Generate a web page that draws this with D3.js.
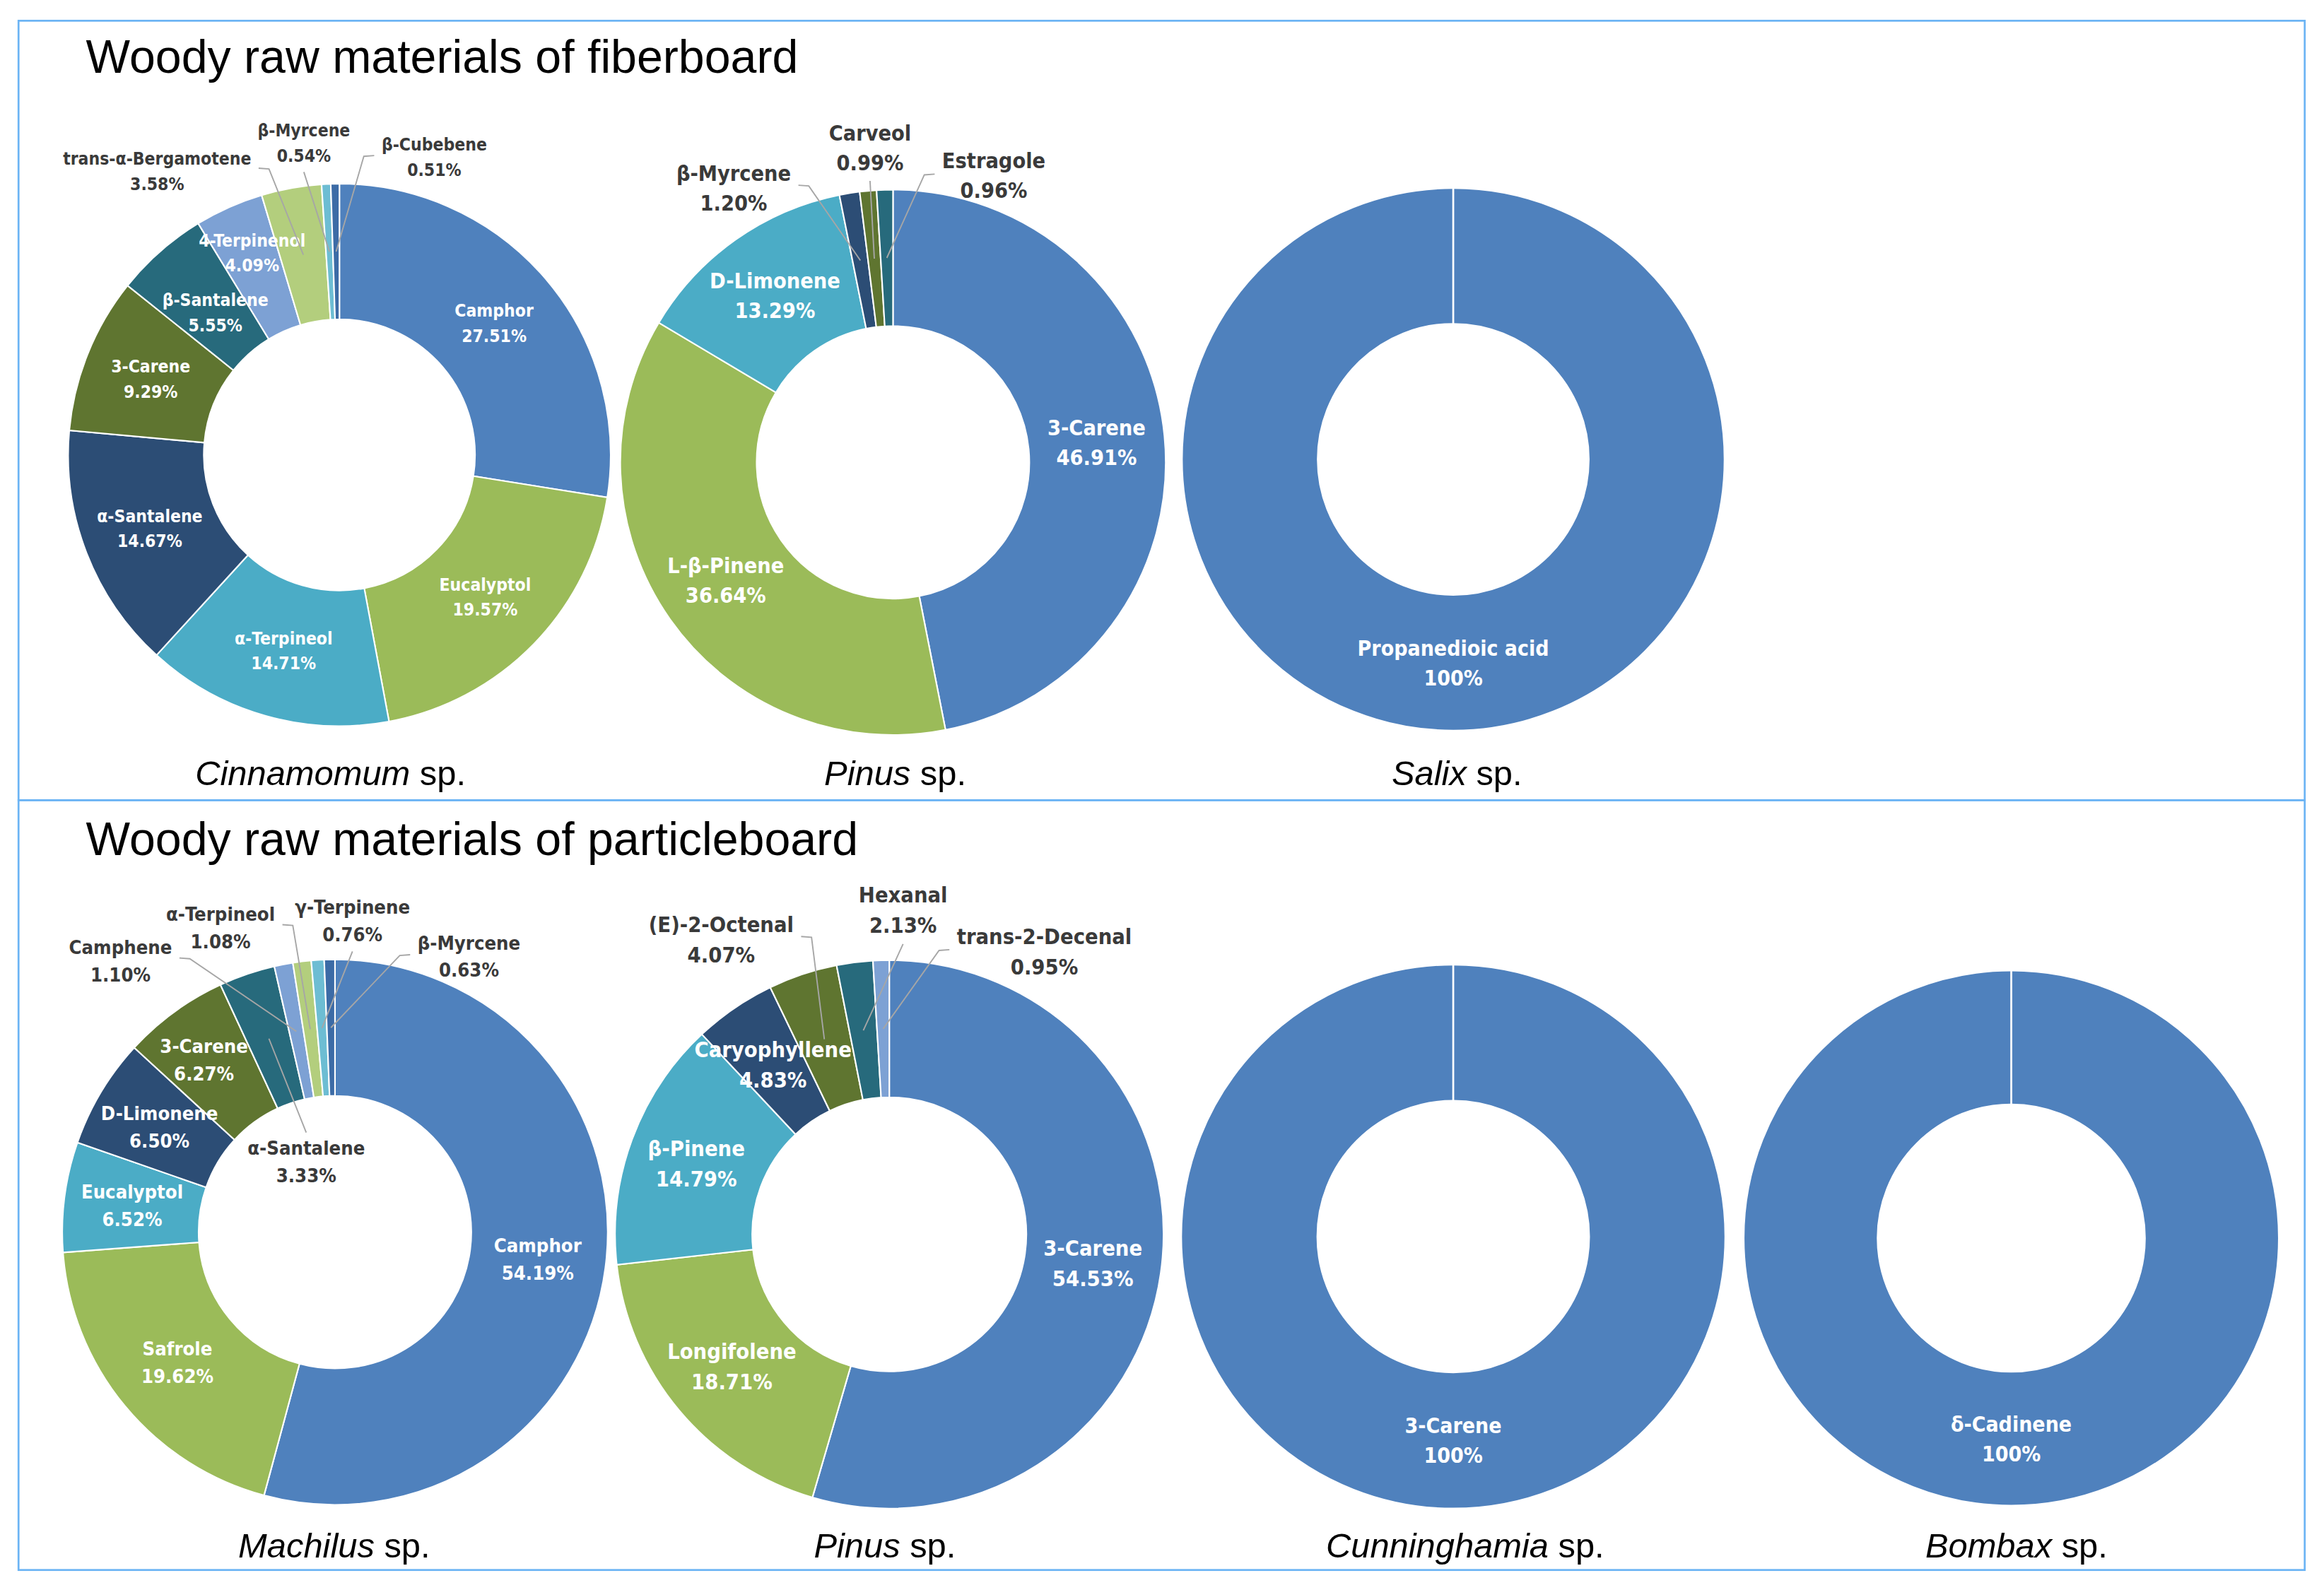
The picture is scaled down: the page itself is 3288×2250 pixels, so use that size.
<!DOCTYPE html>
<html>
<head>
<meta charset="utf-8">
<script src="https://cdn.jsdelivr.net/npm/d3@7"></script>
<style>
  html, body { margin: 0; padding: 0; background: #fff; }
  svg { display: block; }
</style>
</head>
<body>
<div id="chart-area"></div>
<script>
// ---------- data ----------
const panelTitles = ['Woody raw materials of fiberboard', 'Woody raw materials of particleboard'];

const cinnamomumCompounds = ['Camphor', 'Eucalyptol', 'α-Terpineol', 'α-Santalene', '3-Carene',
  'β-Santalene', '4-Terpinenol', 'trans-α-Bergamotene', 'β-Myrcene', 'β-Cubebene'];
const cinnamomumValues = [27.51, 19.57, 14.71, 14.67, 9.29, 5.55, 4.09, 3.58, 0.54, 0.51];

const pinusFiberCompounds = ['3-Carene', 'L-β-Pinene', 'D-Limonene', 'β-Myrcene', 'Carveol', 'Estragole'];
const pinusFiberValues = [46.91, 36.64, 13.29, 1.20, 0.99, 0.96];

const salixCompounds = ['Propanedioic acid'];
const salixValues = [100];

const machilusCompounds = ['Camphor', 'Safrole', 'Eucalyptol', 'D-Limonene', '3-Carene',
  'α-Santalene', 'Camphene', 'α-Terpineol', 'γ-Terpinene', 'β-Myrcene'];
const machilusValues = [54.19, 19.62, 6.52, 6.50, 6.27, 3.33, 1.10, 1.08, 0.76, 0.63];

const pinusParticleCompounds = ['3-Carene', 'Longifolene', 'β-Pinene', 'Caryophyllene',
  '(E)-2-Octenal', 'Hexanal', 'trans-2-Decenal'];
const pinusParticleValues = [54.53, 18.71, 14.79, 4.83, 4.07, 2.13, 0.95];

const cunninghamiaCompounds = ['3-Carene'];
const cunninghamiaValues = [100];

const bombaxCompounds = ['δ-Cadinene'];
const bombaxValues = [100];

// ---------- style ----------
const palette = ['#4f81bd', '#9bbb59', '#4bacc6', '#2c4d75', '#5f7530',
  '#276a7c', '#7da1d4', '#b3ce7d', '#6dbdd3', '#3c6ba6'];
const narrow = "'DejaVu Sans Condensed', 'DejaVu Sans', sans-serif";
const wide = "'DejaVu Sans Condensed', 'DejaVu Sans', sans-serif";

// ---------- layout (viewBox units) ----------
const W = 1568, H = 1073;
const charts = [
  { names: cinnamomumCompounds, values: cinnamomumValues, genus: 'Cinnamomum',
    cx: 229, cy: 307, R: 183, font: narrow, fs: 11.7, lh: 17, sx: 223, sy: 530,
    outside: { 7: [-123, -191.5], 8: [-24, -210.5], 9: [64, -201] },
    nudge: { 5: [7, 7], 6: [-3, -11] } },
  { names: pinusFiberCompounds, values: pinusFiberValues, genus: 'Pinus',
    cx: 602.5, cy: 312, R: 184, font: narrow, fs: 14.5, lh: 20, sx: 604, sy: 530,
    outside: { 3: [-107.5, -185], 4: [-15.5, -212.5], 5: [68, -193.5] }, nudge: {} },
  { names: salixCompounds, values: salixValues, genus: 'Salix',
    cx: 980.5, cy: 310, R: 183, font: narrow, fs: 14.3, lh: 20, sx: 983, sy: 530,
    outside: {}, nudge: {} },
  { names: machilusCompounds, values: machilusValues, genus: 'Machilus',
    cx: 226, cy: 831.5, R: 184, font: wide, fs: 13, lh: 18.5, sx: 225.5, sy: 1051,
    outside: { 5: [-19.4, -47.7], 6: [-144.7, -183], 7: [-77.2, -205.5], 8: [11.8, -210.2], 9: [90.4, -186.2] },
    nudge: { 4: [-7, -5] } },
  { names: pinusParticleCompounds, values: pinusParticleValues, genus: 'Pinus',
    cx: 600, cy: 833, R: 185, font: narrow, fs: 14.6, lh: 20.5, sx: 597, sy: 1051,
    outside: { 4: [-113.4, -199], 5: [9.3, -218.8], 6: [104.6, -191.1] }, nudge: {} },
  { names: cunninghamiaCompounds, values: cunninghamiaValues, genus: 'Cunninghamia',
    cx: 980.5, cy: 834.5, R: 183.5, font: narrow, fs: 14.3, lh: 20, sx: 988.5, sy: 1051,
    outside: {}, nudge: {} },
  { names: bombaxCompounds, values: bombaxValues, genus: 'Bombax',
    cx: 1357, cy: 835.5, R: 180.5, font: narrow, fs: 14.3, lh: 20, sx: 1360.5, sy: 1051,
    outside: {}, nudge: {} }
];

const pct = v => (v === 100 ? '100' : d3.format('.2f')(v)) + '%';

let svg = d3.select('#chart-area').append('svg')
  .attr('width', 3288)
  .attr('height', 2250)
  .attr('viewBox', '0 0 ' + W + ' ' + H);

// panel frames
[[14, 540], [540, 1059.5]].forEach(([y0, y1]) => {
  svg.append('rect')
    .attr('x', 12.5).attr('y', y0)
    .attr('width', 1555 - 12.5).attr('height', y1 - y0)
    .attr('fill', 'none')
    .attr('stroke', '#6cb4f4')
    .attr('stroke-width', 1.3);
});

// panel titles
panelTitles.forEach((t, i) => {
  svg.append('text')
    .attr('x', 58)
    .attr('y', i === 0 ? 49 : 577)
    .attr('font-family', "'Liberation Sans', Arial, sans-serif")
    .attr('font-size', 31.6)
    .attr('fill', '#000')
    .text(t);
});

let pie = d3.pie().sort(null).value(d => d.value);

charts.forEach(c => {
  let data = c.names.map((n, i) => ({ name: n, value: c.values[i], i: i }));
  let arcs = pie(data);
  let r0 = c.R * 0.5;
  let arc = d3.arc().innerRadius(r0).outerRadius(c.R);
  let mid = d3.arc().innerRadius((r0 + c.R) / 2).outerRadius((r0 + c.R) / 2);

  let g = svg.append('g').attr('transform', 'translate(' + c.cx + ',' + c.cy + ')');

  // slices
  g.selectAll('path.slice')
    .data(arcs)
    .enter()
    .append('path')
      .attr('class', 'slice')
      .attr('d', arc)
      .attr('fill', d => palette[d.data.i % palette.length])
      .attr('stroke', '#fff')
      .attr('stroke-width', 1);

  // seam of a single full slice
  if (arcs.length === 1) {
    g.append('line')
      .attr('x1', 0).attr('y1', -r0)
      .attr('x2', 0).attr('y2', -c.R)
      .attr('stroke', '#fff')
      .attr('stroke-width', 1.3);
  }

  // labels
  arcs.forEach(d => {
    let i = d.data.i;
    let cen = mid.centroid(d);
    let out = c.outside[i];
    let pos;
    if (out) pos = out;
    else {
      let nd = c.nudge[i] || [0, 0];
      pos = [cen[0] + nd[0], cen[1] + nd[1]];
    }
    let txt = g.append('text')
      .attr('text-anchor', 'middle')
      .attr('font-family', c.font)
      .attr('font-weight', 'bold')
      .attr('font-size', c.fs)
      .attr('fill', out ? '#3a3a3a' : '#fff');
    txt.append('tspan')
      .attr('x', pos[0])
      .attr('y', pos[1] - c.lh / 2 + 0.36 * c.fs)
      .text(d.data.name);
    txt.append('tspan')
      .attr('x', pos[0])
      .attr('y', pos[1] + c.lh / 2 + 0.36 * c.fs)
      .text(pct(d.data.value));

    if (out) {
      let bb = txt.node().getBBox();
      let pts;
      if (cen[0] >= bb.x && cen[0] <= bb.x + bb.width) {
        let sy = cen[1] > bb.y + bb.height ? bb.y + bb.height + 4 : bb.y - 3;
        pts = [[pos[0], sy], cen];
      } else if (cen[0] > bb.x + bb.width) {
        let sx = bb.x + bb.width + 5;
        pts = [[sx, pos[1] - 2], [sx + 7, pos[1] - 1.5], cen];
      } else {
        let sx = bb.x - 5;
        pts = [[sx, pos[1] - 1], [sx - 7, pos[1] - 0.5], cen];
      }
      g.append('path')
        .attr('d', d3.line()(pts))
        .attr('fill', 'none')
        .attr('stroke', '#a6a6a6')
        .attr('stroke-width', 0.9);
    }
  });

  // species label
  let sp = svg.append('text')
    .attr('x', c.sx)
    .attr('y', c.sy)
    .attr('text-anchor', 'middle')
    .attr('font-family', "'Liberation Sans', Arial, sans-serif")
    .attr('font-size', 23.3)
    .attr('fill', '#000');
  sp.append('tspan').attr('font-style', 'italic').text(c.genus);
  sp.append('tspan').text(' sp.');
});
</script>
</body>
</html>
